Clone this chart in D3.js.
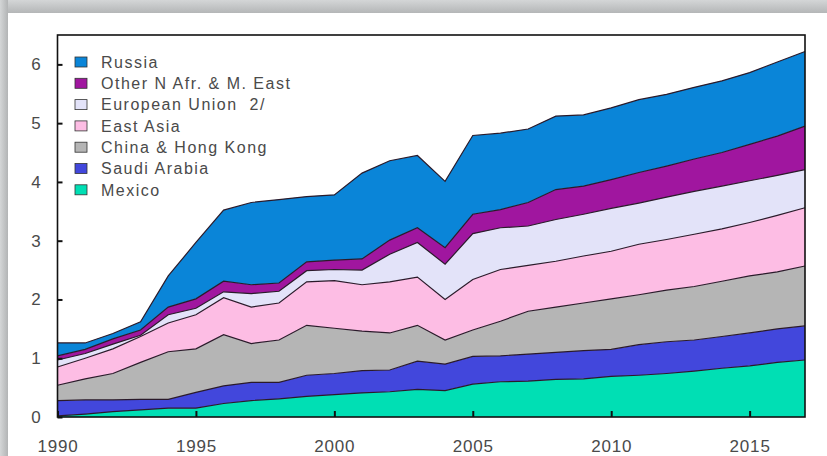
<!DOCTYPE html>
<html>
<head>
<meta charset="utf-8">
<script src="https://cdn.jsdelivr.net/npm/d3@7"></script>
<style>
  body { margin: 0; background: #ffffff; }
  svg { display: block; font-family: "Liberation Sans", Arial, sans-serif; }
</style>
</head>
<body>
<svg id="visualization"></svg>
<script>
// years on the x axis
var years = d3.range(1990, 2018)

// series values (each layer's own thickness), bottom layer first
var mexico = [0.02,0.05,0.09,0.12,0.15,0.15,0.23,0.28,0.31,0.35,0.38,0.41,0.43,0.47,0.45,0.56,0.60,0.61,0.64,0.65,0.69,0.71,0.74,0.78,0.83,0.87,0.93,0.97]
var saudiArabia = [0.26,0.24,0.20,0.18,0.15,0.27,0.30,0.31,0.28,0.36,0.36,0.38,0.37,0.48,0.45,0.47,0.44,0.46,0.46,0.48,0.46,0.52,0.54,0.53,0.54,0.56,0.57,0.58]
var chinaHK = [0.26,0.36,0.45,0.63,0.81,0.74,0.87,0.66,0.72,0.85,0.77,0.67,0.63,0.61,0.41,0.45,0.59,0.73,0.77,0.81,0.86,0.85,0.88,0.91,0.94,0.97,0.97,1.02]
var eastAsia = [0.31,0.35,0.42,0.44,0.49,0.58,0.63,0.62,0.63,0.74,0.81,0.79,0.87,0.82,0.69,0.86,0.88,0.78,0.78,0.80,0.81,0.86,0.86,0.89,0.89,0.91,0.96,0.99]
var europeanUnion = [0.12,0.08,0.08,0.02,0.14,0.11,0.10,0.23,0.20,0.19,0.19,0.25,0.47,0.59,0.60,0.78,0.71,0.67,0.71,0.71,0.73,0.70,0.72,0.73,0.73,0.71,0.68,0.65]
var otherNAfrME = [0.07,0.07,0.09,0.09,0.13,0.16,0.18,0.15,0.14,0.15,0.16,0.19,0.24,0.25,0.28,0.33,0.31,0.40,0.51,0.48,0.49,0.52,0.53,0.55,0.57,0.62,0.67,0.74]
var russia = [0.22,0.11,0.09,0.14,0.53,0.96,1.21,1.40,1.42,1.11,1.11,1.46,1.35,1.23,1.13,1.34,1.30,1.25,1.25,1.21,1.22,1.24,1.22,1.22,1.22,1.22,1.26,1.27]

var keys = ["Mexico", "Saudi Arabia", "China & Hong Kong", "East Asia", "European Union  2/", "Other N Afr. & M. East", "Russia"]
var colors = ["#00dfb4", "#4247dc", "#b5b5b5", "#fdbde4", "#e3e3f9", "#a0169f", "#0a85d8"]
var seriesValues = [mexico, saudiArabia, chinaHK, eastAsia, europeanUnion, otherNAfrME, russia]

var yTicks = [0, 1, 2, 3, 4, 5, 6]
var xTicks = [1990, 1995, 2000, 2005, 2010, 2015]

var dimensions = {
    width: 827,
    height: 456,
    margin: { top: 35, bottom: 39, right: 22, left: 57.5 }
}

var svg = d3.select("#visualization")
            .attr("width", dimensions.width)
            .attr("height", dimensions.height)

// grey frame around the picture
var defs = svg.append("defs")
var gTop = defs.append("linearGradient").attr("id", "gtop").attr("x1", 0).attr("y1", 0).attr("x2", 0).attr("y2", 1)
gTop.append("stop").attr("offset", "0%").attr("stop-color", "#d4d6d7")
gTop.append("stop").attr("offset", "100%").attr("stop-color", "#b4b6b7")
var gLeft = defs.append("linearGradient").attr("id", "gleft").attr("x1", 0).attr("y1", 0).attr("x2", 1).attr("y2", 0)
gLeft.append("stop").attr("offset", "0%").attr("stop-color", "#d4d6d7")
gLeft.append("stop").attr("offset", "100%").attr("stop-color", "#b2b4b5")

svg.append("rect").attr("x", 0).attr("y", 0).attr("width", dimensions.width).attr("height", 13).attr("fill", "url(#gtop)")
svg.append("rect").attr("x", 0).attr("y", 0).attr("width", 8).attr("height", dimensions.height).attr("fill", "url(#gleft)")
svg.append("rect").attr("x", 8).attr("y", 13).attr("width", dimensions.width - 8).attr("height", dimensions.height - 13).attr("fill", "#ffffff")

var table = years.map(function(y, i){
    var row = { year: y }
    keys.forEach(function(k, j){ row[k] = seriesValues[j][i] })
    return row
})

var stackedData = d3.stack().keys(keys)(table)

var xScale = d3.scaleLinear()
               .domain([1990, 2017])
               .range([dimensions.margin.left, dimensions.width - dimensions.margin.right])

var yScale = d3.scaleLinear()
               .domain([0, 6.5])
               .range([dimensions.height - dimensions.margin.bottom, dimensions.margin.top])

var colorScale = d3.scaleOrdinal().domain(keys).range(colors)

var area = d3.area()
             .x(d => xScale(d.data.year))
             .y0(d => yScale(d[0]))
             .y1(d => yScale(d[1]))

var topLine = d3.line()
                .x(d => xScale(d.data.year))
                .y(d => yScale(d[1]))

var layers = svg.append("g")

layers.selectAll("path.area")
      .data(stackedData)
      .enter()
      .append("path")
      .attr("class", "area")
      .attr("d", area)
      .attr("fill", d => colorScale(d.key))

layers.selectAll("path.edge")
      .data(stackedData)
      .enter()
      .append("path")
      .attr("class", "edge")
      .attr("d", topLine)
      .attr("fill", "none")
      .attr("stroke", "#2a1a2a")
      .attr("stroke-width", 1.2)

// axes with ticks pointing inwards
var yAxisGen = d3.axisLeft(yScale).tickValues(yTicks).tickFormat(d3.format("d")).tickSize(-5).tickPadding(16)
var yAxis = svg.append("g")
               .attr("transform", `translate(${dimensions.margin.left},0)`)
               .call(yAxisGen)

var xAxisGen = d3.axisBottom(xScale).tickValues(xTicks).tickFormat(d3.format("d")).tickSize(-6).tickPadding(23)
var xAxis = svg.append("g")
               .attr("transform", `translate(0,${dimensions.height - dimensions.margin.bottom})`)
               .call(xAxisGen)

svg.selectAll(".domain").remove()
svg.selectAll(".tick line").attr("stroke", "#111").attr("stroke-width", 2)
svg.selectAll(".tick text")
   .attr("fill", "#4a4a4a")
   .style("font-size", "17px")
   .style("font-family", "'Liberation Sans', Arial, sans-serif")
   .style("letter-spacing", "0.8px")

svg.append("rect")
   .attr("x", dimensions.margin.left)
   .attr("y", dimensions.margin.top)
   .attr("width", dimensions.width - dimensions.margin.right - dimensions.margin.left)
   .attr("height", dimensions.height - dimensions.margin.bottom - dimensions.margin.top)
   .attr("fill", "none")
   .attr("stroke", "#111")
   .attr("stroke-width", 1.6)

// legend, Russia on top
var legendKeys = keys.slice().reverse()
var legend = svg.append("g")
var rows = legend.selectAll("g")
                 .data(legendKeys)
                 .enter()
                 .append("g")
                 .attr("transform", (d, i) => `translate(75,${62 + i * 21.3})`)

rows.append("rect")
    .attr("x", 0)
    .attr("y", -5)
    .attr("width", 12)
    .attr("height", 10)
    .attr("fill", d => colorScale(d))
    .attr("stroke", "#333")
    .attr("stroke-width", 0.8)

rows.append("text")
    .attr("x", 26)
    .attr("y", 0)
    .attr("dy", "0.36em")
    .attr("fill", "#4a4a4a")
    .style("font-size", "16px")
    .style("letter-spacing", "1.5px")
    .style("white-space", "pre")
    .text(d => d)
</script>
</body>
</html>
